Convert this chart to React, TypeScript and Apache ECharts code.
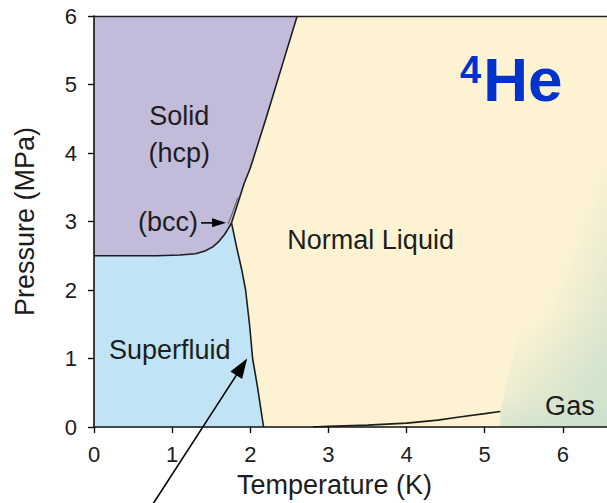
import React, { useEffect, useRef } from "react";
import * as echarts from "echarts";

const FONT = '"Liberation Sans", Arial, Helvetica, sans-serif';
const INK = "#1d1d1d";

// Phase boundaries of helium-4: [temperature (K), pressure (MPa)]
const meltingCurve = [
  [1.76, 2.98], [1.85, 3.3], [1.92, 3.55], [2.0, 3.78], [2.2, 4.5], [2.4, 5.25], [2.6, 6.0],
];
const solidSuperfluidCurve = [
  [0, 2.5], [0.8, 2.5], [1.1, 2.51], [1.3, 2.53], [1.42, 2.57], [1.52, 2.63],
  [1.6, 2.71], [1.67, 2.81], [1.72, 2.9], [1.76, 2.98],
];
const lambdaLine = [
  [1.76, 2.98], [1.83, 2.6], [1.89, 2.3], [1.94, 2.0], [1.99, 1.5], [2.03, 1.0],
  [2.09, 0.6], [2.13, 0.3], [2.17, 0],
];
const vaporCurve = [
  [2.8, 0], [3.0, 0.01], [3.5, 0.028], [4.0, 0.056], [4.4, 0.1], [4.7, 0.15], [5.0, 0.195], [5.2, 0.227],
];
const bccSliver = [[1.715, 2.96], [1.78, 3.15], [1.84, 3.35]];
// Diffuse liquid/gas crossover above the critical point
const gasEdge = [[5.2, 0.227], [5.33, 0.9], [5.52, 1.65], [5.78, 2.45], [6.1, 3.25], [6.5, 3.95], [7, 4.6]];

// Pointers and labels, anchored in data coordinates
const lambdaPointer = [[0.7, -1.22], [1.96, 1.0]];
const bccPointer = [[1.37, 2.98], [1.69, 2.98]];
const phaseLabels = [
  { text: "Solid", at: [1.09, 4.54] },
  { text: "(hcp)", at: [1.09, 4.0] },
  { text: "Normal Liquid", at: [3.54, 2.73] },
  { text: "Superfluid", at: [0.97, 1.12] },
  { text: "Gas", at: [6.09, 0.3] },
];
const bccLabel = { text: "(bcc)", at: [1.33, 2.99] };
const isotopeLabel = { mass: "4", symbol: "He", at: [4.98, 5.07] };

const solidRegion = [[0, 6], ...[...meltingCurve].reverse(), ...[...solidSuperfluidCurve].reverse()];
const superfluidRegion = [...solidSuperfluidCurve, ...lambdaLine, [0, 0]];
const gasRegion = [...gasEdge, [7, 0], [5.2, 0]];

type Api = any;

const GAS_RGB = "194,221,204";

function regionSeries(name: string, points: number[][], fill: (api: Api) => any, z: number) {
  return {
    type: "custom",
    name,
    z,
    silent: true,
    clip: true,
    data: [points[0]],
    renderItem: (_p: any, api: Api) => ({
      type: "polygon",
      shape: { points: points.map((p) => api.coord(p)) },
      style: { fill: fill(api) },
    }),
  };
}

function boundarySeries(name: string, data: number[][], width = 1.6, color = INK) {
  return {
    type: "line",
    name,
    data,
    symbol: "none",
    showSymbol: false,
    silent: true,
    clip: true,
    z: 4,
    lineStyle: { color, width },
  };
}

function arrow(api: Api, from: number[], to: number[], headLen: number, headHalf: number, width: number) {
  const p0 = api.coord(from);
  const p1 = api.coord(to);
  const dx = p1[0] - p0[0];
  const dy = p1[1] - p0[1];
  const len = Math.hypot(dx, dy);
  const ux = dx / len;
  const uy = dy / len;
  const bx = p1[0] - ux * headLen;
  const by = p1[1] - uy * headLen;
  return [
    {
      type: "line",
      shape: { x1: p0[0], y1: p0[1], x2: bx + ux * 2, y2: by + uy * 2 },
      style: { stroke: "#000", lineWidth: width },
    },
    {
      type: "polygon",
      shape: {
        points: [
          [p1[0], p1[1]],
          [bx - uy * headHalf, by + ux * headHalf],
          [bx + uy * headHalf, by - ux * headHalf],
        ],
      },
      style: { fill: "#000" },
    },
  ];
}

function textEl(text: string, x: number, y: number, size: number, align: string, extra: any = {}) {
  return {
    type: "text",
    x,
    y,
    style: {
      text,
      fill: INK,
      fontSize: size,
      fontFamily: FONT,
      align,
      verticalAlign: "middle",
      textAlign: align,
      textVerticalAlign: "middle",
      ...extra,
    },
  };
}

// Soft fade across the crossover edge
function gasSideFill(api: Api) {
  const a = api.coord(gasEdge[0]);
  const b = api.coord(gasEdge[gasEdge.length - 2]);
  const dx = b[0] - a[0];
  const dy = b[1] - a[1];
  const len = Math.hypot(dx, dy);
  const nx = -dy / len;
  const ny = dx / len;
  return new echarts.graphic.LinearGradient(
    a[0], a[1], a[0] + nx * 75, a[1] + ny * 75,
    [
      { offset: 0, color: `rgba(${GAS_RGB},0)` },
      { offset: 1, color: `rgba(${GAS_RGB},0.6)` },
    ],
    true
  );
}

// Gas gets denser towards low pressure
function gasLowFill(api: Api) {
  const bottom = api.coord([6, 0]);
  const top = api.coord([6, 1.7]);
  return new echarts.graphic.LinearGradient(
    bottom[0], bottom[1], top[0], top[1],
    [
      { offset: 0, color: `rgba(${GAS_RGB},0.6)` },
      { offset: 0.25, color: `rgba(${GAS_RGB},0.3)` },
      { offset: 1, color: `rgba(${GAS_RGB},0)` },
    ],
    true
  );
}

const option: any = {
  animation: false,
  backgroundColor: "#ffffff",
  grid: {
    left: 94,
    top: 16,
    width: 547,
    height: 411,
    outerBoundsMode: "none",
    containLabel: false,
    show: true,
    backgroundColor: "#fdf3d3",
    borderWidth: 0,
  },
  xAxis: [
    {
      type: "value",
      min: 0,
      max: 7,
      interval: 1,
      z: 10,
      name: "Temperature (K)",
      nameLocation: "middle",
      nameGap: 44,
      nameTextStyle: { fontSize: 27, color: INK, fontFamily: FONT, padding: [0, 66, 0, 0] },
      axisLine: { show: true, onZero: false, lineStyle: { color: "#111", width: 1.6 } },
      axisTick: { show: true, length: 6, lineStyle: { color: "#111", width: 1.4 } },
      axisLabel: { fontSize: 22, color: INK, fontFamily: FONT, margin: 16, showMaxLabel: false },
      splitLine: { show: false },
    },
    {
      type: "value",
      position: "top",
      min: 0,
      max: 7,
      z: 10,
      axisLine: { show: true, onZero: false, lineStyle: { color: "#222", width: 1.4 } },
      axisTick: { show: false },
      axisLabel: { show: false },
      splitLine: { show: false },
    },
  ],
  yAxis: {
    type: "value",
    min: 0,
    max: 6,
    interval: 1,
    z: 10,
    name: "Pressure (MPa)",
    nameLocation: "middle",
    nameGap: 56,
    nameTextStyle: { fontSize: 27, color: INK, fontFamily: FONT },
    axisLine: { show: true, onZero: false, lineStyle: { color: "#111", width: 1.6 } },
    axisTick: { show: true, length: 6, lineStyle: { color: "#111", width: 1.4 } },
    axisLabel: { fontSize: 22, color: INK, fontFamily: FONT, margin: 17 },
    splitLine: { show: false },
  },
  series: [
    regionSeries("Gas", gasRegion, gasSideFill, 1),
    regionSeries("Gas (dense)", gasRegion, gasLowFill, 1),
    regionSeries("Solid (hcp)", solidRegion, () => "#c2bbda", 2),
    regionSeries("Superfluid", superfluidRegion, () => "#c0e4f5", 2),
    boundarySeries("melting curve", meltingCurve),
    boundarySeries("solid / superfluid", solidSuperfluidCurve),
    boundarySeries("lambda line", lambdaLine),
    boundarySeries("vapour pressure", vaporCurve),
    boundarySeries("bcc phase", bccSliver, 1, "#555"),
    {
      type: "custom",
      name: "annotations",
      z: 8,
      silent: true,
      clip: false,
      data: [[0, 0]],
      renderItem: (_p: any, api: Api) => {
        const children: any[] = [];
        phaseLabels.forEach((l) => {
          const [x, y] = api.coord(l.at);
          children.push(textEl(l.text, x, y, 27, "center"));
        });
        const [bx, by] = api.coord(bccLabel.at);
        children.push(textEl(bccLabel.text, bx, by, 27, "right"));
        children.push(...arrow(api, bccPointer[0], bccPointer[1], 14, 4.5, 1.6));
        children.push(...arrow(api, lambdaPointer[0], lambdaPointer[1], 20, 7, 1.6));
        const [hx, hy] = api.coord(isotopeLabel.at);
        children.push(
          textEl(isotopeLabel.symbol, hx, hy, 62, "left", { fill: "#0033cc", fontWeight: "bold" })
        );
        children.push(
          textEl(isotopeLabel.mass, hx - 2, hy - 10, 38, "right", { fill: "#0033cc", fontWeight: "bold" })
        );
        return { type: "group", children };
      },
    },
  ],
};

export default function App() {
  const ref = useRef<HTMLDivElement>(null);
  useEffect(() => {
    document.body.style.margin = "0";
    const chart = echarts.init(ref.current!, undefined, { renderer: "svg" });
    chart.setOption(option);
    return () => chart.dispose();
  }, []);
  return (
    <div
      ref={ref}
      style={{ position: "absolute", left: 0, top: 0, width: 607, height: 503, background: "#fff" }}
    />
  );
}
